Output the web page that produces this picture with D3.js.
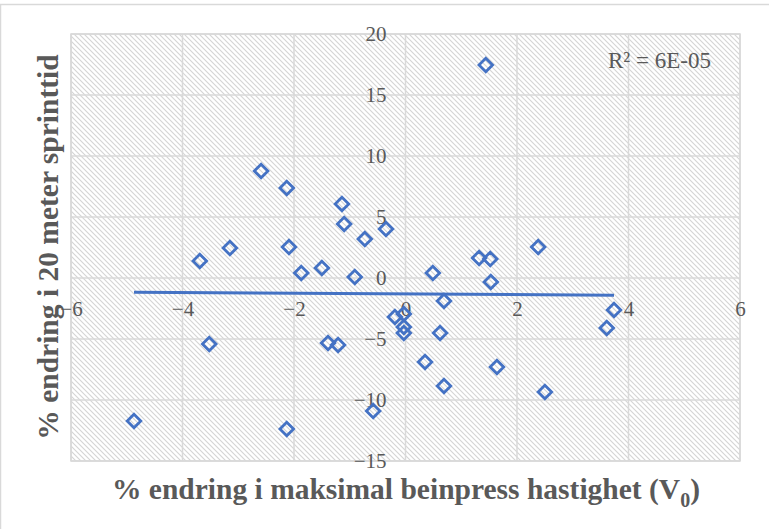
<!DOCTYPE html>
<html>
<head>
<meta charset="utf-8">
<script src="https://d3js.org/d3.v7.min.js"></script>
<style>
  body { margin: 0; background: #fff; }
  svg { display: block; font-family: "Liberation Serif", "Times New Roman", serif; }
</style>
</head>
<body>
<svg class="scatter" width="769" height="529"></svg>
<script>
  // DATA
  const xValues = [1.44, -2.59, -2.13, -1.14, -1.10, -0.35, -0.73, -3.15, -2.09, 2.38,
    -3.69, 1.32, 1.52, -1.87, -1.50, -0.91, 0.49, 1.53, 0.69, 3.74,
    -0.19, -0.03, -0.03, -0.03, 3.61, 0.62, -3.52, -1.39, -1.21, 0.35,
    1.64, 0.69, 2.50, -0.58, -4.87, -2.13];
  const yValues = [17.46, 8.77, 7.38, 6.07, 4.43, 4.02, 3.20, 2.46, 2.54, 2.54,
    1.39, 1.64, 1.56, 0.41, 0.82, 0.08, 0.41, -0.33, -1.89, -2.62,
    -3.20, -2.95, -4.02, -4.51, -4.10, -4.51, -5.41, -5.33, -5.49, -6.89,
    -7.30, -8.85, -9.34, -10.90, -11.72, -12.38];
  const xTicks = [-6, -4, -2, 0, 2, 4, 6];
  const yTicks = [-15, -10, -5, 0, 5, 10, 15, 20];
  const r2Label = "R² = 6E-05";

  const points = xValues.map((x, i) => ({x: x, y: yValues[i]}));

  const svg = d3.select(".scatter");
  const gridColor = "#d9d9d9";
  const textColor = "#595959";
  const pointColor = "#4472c4";

  const plot = {left: 71, right: 740, top: 34, bottom: 461};
  const xScale = d3.scaleLinear().domain([-6, 6]).range([plot.left, plot.right]);
  const yScale = d3.scaleLinear().domain([-15, 20]).range([plot.bottom, plot.top]);

  // chart area border (only top/left visible)
  svg.append("path")
    .attr("d", "M0.5,529 L0.5,4.5 L769,4.5")
    .attr("fill", "none")
    .attr("stroke", gridColor)
    .attr("stroke-width", 1.5);

  // hatch pattern for plot area
  const pat = svg.append("defs").append("pattern")
    .attr("id", "hatch")
    .attr("patternUnits", "userSpaceOnUse")
    .attr("width", 5)
    .attr("height", 5);
  pat.append("rect").attr("width", 5).attr("height", 5).attr("fill", "#fff");
  pat.append("path")
    .attr("d", "M0,0 L5,5 M-1,4 L1,6 M4,-1 L6,1")
    .attr("stroke", "#d4d4d4")
    .attr("stroke-width", 1.1);

  svg.append("rect")
    .attr("x", plot.left)
    .attr("y", plot.top)
    .attr("width", plot.right - plot.left)
    .attr("height", plot.bottom - plot.top)
    .attr("fill", "url(#hatch)")
    .attr("stroke", gridColor)
    .attr("stroke-width", 1.5);

  // gridlines
  svg.append("g").selectAll("line")
    .data(xTicks)
    .enter().append("line")
    .attr("x1", d => xScale(d)).attr("x2", d => xScale(d))
    .attr("y1", plot.top).attr("y2", plot.bottom)
    .attr("stroke", gridColor).attr("stroke-width", 1.5);
  svg.append("g").selectAll("line")
    .data(yTicks)
    .enter().append("line")
    .attr("x1", plot.left).attr("x2", plot.right)
    .attr("y1", d => yScale(d)).attr("y2", d => yScale(d))
    .attr("stroke", gridColor).attr("stroke-width", 1.5);

  // axes (crossing at 0,0, no lines)
  const xAxis = svg.append("g")
    .attr("transform", "translate(0," + yScale(0) + ")")
    .call(d3.axisBottom(xScale).tickValues(xTicks).tickSize(0).tickPadding(23));
  const yAxis = svg.append("g")
    .attr("transform", "translate(" + xScale(0) + ",0)")
    .call(d3.axisLeft(yScale).tickValues(yTicks).tickSize(0).tickPadding(19));
  [xAxis, yAxis].forEach(a => {
    a.select(".domain").remove();
    a.selectAll("text")
      .attr("fill", textColor)
      .style("font-family", "'Liberation Serif', 'Times New Roman', serif")
      .style("font-size", "21px");
  });

  // trend line (least squares)
  const mx = d3.mean(points, d => d.x);
  const my = d3.mean(points, d => d.y);
  const slope = d3.sum(points, d => (d.x - mx) * (d.y - my)) / d3.sum(points, d => (d.x - mx) ** 2);
  const xExt = d3.extent(points, d => d.x);
  svg.append("line")
    .attr("x1", xScale(xExt[0])).attr("y1", yScale(my + slope * (xExt[0] - mx)))
    .attr("x2", xScale(xExt[1])).attr("y2", yScale(my + slope * (xExt[1] - mx)))
    .attr("stroke", pointColor)
    .attr("stroke-width", 3);

  // points
  svg.append("g").selectAll("path")
    .data(points)
    .enter().append("path")
    .attr("transform", d => "translate(" + xScale(d.x) + "," + yScale(d.y) + ")")
    .attr("d", "M0,-6.8 L6.8,0 L0,6.8 L-6.8,0 Z")
    .attr("fill", "none")
    .attr("stroke", pointColor)
    .attr("stroke-width", 2.8);

  // R² label
  svg.append("text")
    .attr("x", 608)
    .attr("y", 68)
    .attr("fill", textColor)
    .style("font-size", "23px")
    .text(r2Label);

  // axis titles
  const xTitle = svg.append("text")
    .attr("x", 406)
    .attr("y", 499)
    .attr("text-anchor", "middle")
    .attr("fill", textColor)
    .style("font-size", "29.5px")
    .style("font-weight", "bold")
    .text("% endring i maksimal beinpress hastighet (V");
  xTitle.append("tspan").attr("dy", 8).style("font-size", "20px").text("0");
  xTitle.append("tspan").attr("dy", -8).text(")");

  svg.append("text")
    .attr("transform", "translate(58,247) rotate(-90)")
    .attr("text-anchor", "middle")
    .attr("fill", textColor)
    .style("font-size", "29.5px")
    .style("font-weight", "bold")
    .text("% endring i 20 meter sprinttid");
</script>
</body>
</html>
